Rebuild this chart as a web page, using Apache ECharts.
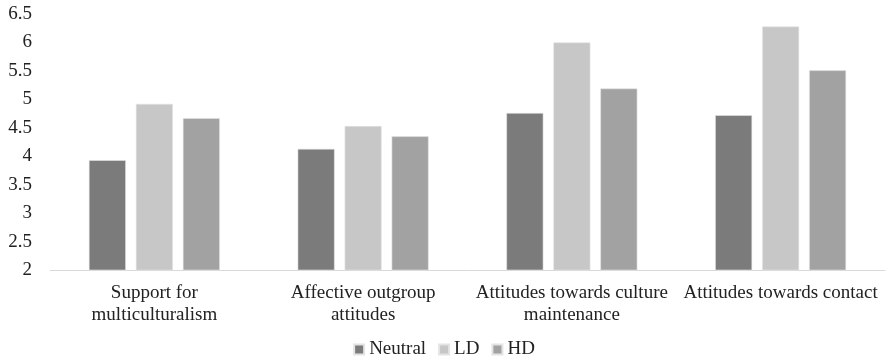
<!DOCTYPE html>
<html><head><meta charset="utf-8">
<script src="https://cdn.jsdelivr.net/npm/echarts@6/dist/echarts.min.js"></script>
<style>html,body{margin:0;padding:0;background:#fff}#c{width:888px;height:361px}</style>
</head><body><div id="c"></div>
<script>
const categories = ["Support for\nmulticulturalism", "Affective outgroup\nattitudes", "Attitudes towards culture\nmaintenance", "Attitudes towards contact"];
const seriesNames = ["Neutral", "LD", "HD"];
const neutral = [3.93, 4.13, 4.76, 4.72];
const ld = [4.92, 4.53, 6.00, 6.28];
const hd = [4.67, 4.35, 5.19, 5.51];
const yTicks = { min: 2, max: 6.5, interval: 0.5 };
const colors = ["#7b7b7b", "#c6c7c6", "#a2a2a2"];
const font = "'Liberation Serif', 'Times New Roman', serif";
const chart = echarts.init(document.getElementById('c'), null, {renderer: 'canvas'});
const values = [neutral, ld, hd];
chart.setOption({
  animation: false,
  textStyle: {fontFamily: font},
  grid: {left: 50, right: 3, top: 14, bottom: 91, containLabel: false},
  legend: {
    bottom: 0, left: 'center', itemWidth: 10, itemHeight: 10, itemGap: 12,
    icon: 'rect', padding: [2, 5, 2, 5],
    textStyle: {fontFamily: font, fontSize: 19, color: '#222'},
    data: seriesNames
  },
  xAxis: {
    type: 'category', data: categories,
    axisLine: {show: true, lineStyle: {color: '#d9d9d9', width: 1}},
    axisTick: {show: false},
    axisLabel: {interval: 0, fontFamily: font, fontSize: 19, color: '#222', margin: 12, lineHeight: 22}
  },
  yAxis: {
    type: 'value', min: yTicks.min, max: yTicks.max, interval: yTicks.interval,
    splitLine: {show: false}, axisLine: {show: false}, axisTick: {show: false},
    axisLabel: {fontFamily: font, fontSize: 19, color: '#222', margin: 18}
  },
  series: seriesNames.map((n, i) => ({
    name: n, type: 'bar', data: values[i], barWidth: 37, barGap: '27%',
    itemStyle: {color: colors[i], borderColor: '#e4e4e4', borderWidth: 0.6}
  }))
});
</script></body></html>
